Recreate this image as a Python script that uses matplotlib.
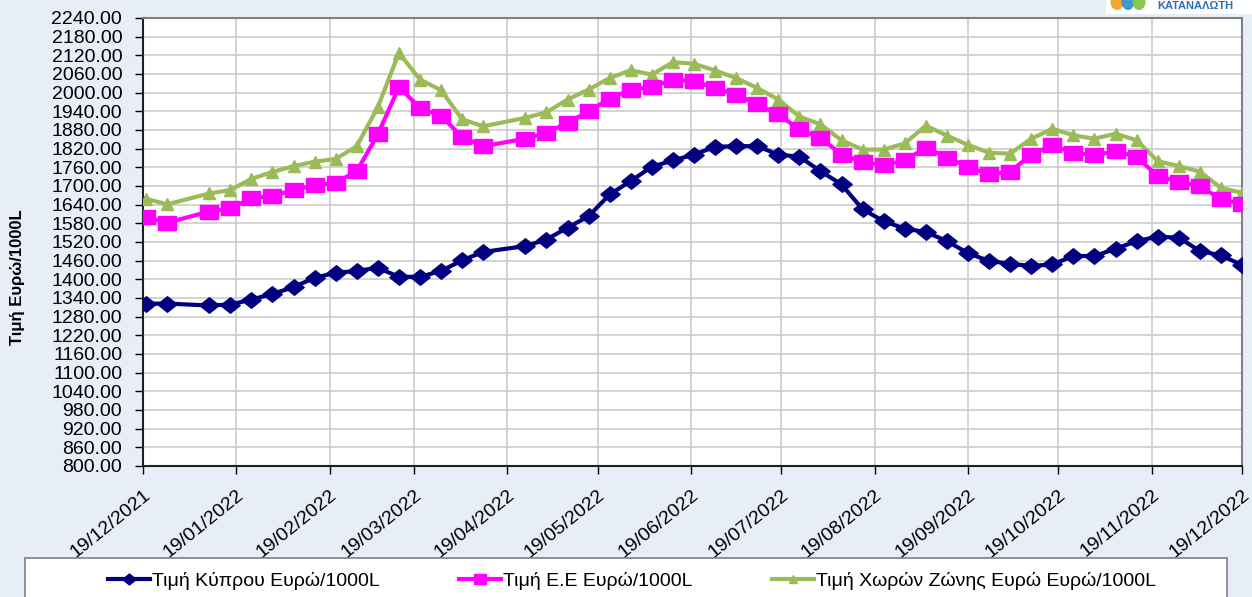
import numpy as np, matplotlib; matplotlib.use("Agg")
import matplotlib.pyplot as plt
import matplotlib.transforms as mtrans
from matplotlib.patches import Rectangle, Ellipse
import datetime as dt

plt.rcParams['font.family'] = ['Liberation Sans', 'DejaVu Sans']

# weekly dates (Mondays), gap for 03/01 and 18/04
dates = ["2021-12-20", "2021-12-27",
         "2022-01-10", "2022-01-17", "2022-01-24", "2022-01-31", "2022-02-07", "2022-02-14",
         "2022-02-21", "2022-02-28", "2022-03-07", "2022-03-14", "2022-03-21", "2022-03-28",
         "2022-04-04", "2022-04-11", "2022-04-25", "2022-05-02", "2022-05-09", "2022-05-16",
         "2022-05-23", "2022-05-30", "2022-06-06", "2022-06-13", "2022-06-20", "2022-06-27",
         "2022-07-04", "2022-07-11", "2022-07-18", "2022-07-25", "2022-08-01", "2022-08-08",
         "2022-08-15", "2022-08-22", "2022-08-29", "2022-09-05", "2022-09-12", "2022-09-19",
         "2022-09-26", "2022-10-03", "2022-10-10", "2022-10-17", "2022-10-24", "2022-10-31",
         "2022-11-07", "2022-11-14", "2022-11-21", "2022-11-28", "2022-12-05", "2022-12-12",
         "2022-12-19"]
cyprus = [1322, 1322, 1316, 1319, 1335, 1353, 1375, 1405, 1421, 1427, 1437, 1408, 1408, 1427,
          1461, 1488, 1507, 1528, 1566, 1603, 1673, 1716, 1762, 1782, 1801, 1826, 1828, 1828,
          1801, 1794, 1748, 1705, 1625, 1587, 1563, 1552, 1523, 1484, 1459, 1450, 1443, 1448,
          1475, 1475, 1498, 1523, 1537, 1534, 1491, 1477, 1446]
eu = [1601, 1582, 1618, 1628, 1660, 1668, 1687, 1702, 1710, 1748, 1866, 2018, 1951, 1926,
      1857, 1828, 1852, 1871, 1903, 1940, 1981, 2010, 2018, 2042, 2037, 2015, 1994, 1962,
      1930, 1882, 1855, 1801, 1777, 1767, 1782, 1823, 1791, 1762, 1737, 1746, 1801, 1831,
      1807, 1799, 1812, 1794, 1732, 1714, 1700, 1657, 1643]
zone = [1659, 1641, 1676, 1687, 1723, 1745, 1764, 1778, 1787, 1828, 1954, 2128, 2042, 2008,
        1914, 1892, 1919, 1937, 1978, 2010, 2047, 2072, 2058, 2098, 2093, 2071, 2047, 2015,
        1978, 1923, 1898, 1847, 1817, 1817, 1837, 1894, 1862, 1832, 1807, 1804, 1852, 1884,
        1863, 1852, 1868, 1847, 1780, 1764, 1746, 1694, 1678]
labels = ["Τιμή Κύπρου Ευρώ/1000L", "Τιμή Ε.Ε Ευρώ/1000L", "Τιμή Χωρών Ζώνης Ευρώ Ευρώ/1000L"]
yticks = np.arange(800, 2241, 60)

x = [dt.datetime.strptime(d, "%Y-%m-%d") for d in dates]
xt = [dt.datetime(2021, 12, 19)] + [dt.datetime(2022, m, 19) for m in range(1, 13)]

BG = "#E8EEF7"
fig = plt.figure(figsize=(12.52, 5.97), dpi=100, facecolor=BG)
ax = fig.add_axes([143/1252, 1-466/597, (1242-143)/1252, (466-18)/597])
ax.set_facecolor("white")

diam = [(-1, 0), (0, 0.8), (1, 0), (0, -0.8), (-1, 0)]
sq = [(-1, -0.78), (1, -0.78), (1, 0.78), (-1, 0.78), (-1, -0.78)]
ax.plot(x, zone, color="#9BBB59", lw=3, marker="^", ms=9, label=labels[2], zorder=3)
ax.plot(x, eu, color="#FF00FF", lw=3, marker=sq, ms=13, label=labels[1], zorder=4)
ax.plot(x, cyprus, color="#000080", lw=3, marker=diam, ms=14, label=labels[0], zorder=5)

ax.set_ylim(800, 2240)
ax.set_yticks(yticks)
ax.set_yticklabels(["%.2f" % v for v in yticks], fontsize=14)
ax.set_xlim(xt[0], xt[-1])
ax.set_xticks(xt)
ax.set_xticklabels([d.strftime("%d/%m/%Y") for d in xt], rotation=39, ha="right",
                   va="top", rotation_mode="anchor", fontsize=14)
off = mtrans.ScaledTranslation(6/100, 0, fig.dpi_scale_trans)
for t in ax.get_xticklabels():
    t.set_transform(t.get_transform() + off)
ax.tick_params(axis="y", length=6, width=1, pad=9)
ax.tick_params(axis="x", length=6, width=1, pad=9)
ax.grid(True, color="#C8C8C8", lw=1.1)
ax.set_axisbelow(True)
for s in ["top", "right"]:
    ax.spines[s].set_color("#808080"); ax.spines[s].set_linewidth(1.5)
for s in ["left", "bottom"]:
    ax.spines[s].set_color("#202020"); ax.spines[s].set_linewidth(1.5)

fig.text(18/1252, 1-277/597, "Τιμή Ευρώ/1000L", rotation=90, ha="center", va="center",
         fontsize=12, fontweight="bold")

# legend box (runs past the bottom edge)
fig.patches.append(Rectangle((25/1252, -0.05), (1227-25)/1252, 0.05+1-558/597,
                             transform=fig.transFigure, facecolor="white", edgecolor="#808080", lw=1.2))
h, l = ax.get_legend_handles_labels()
order = [2, 1, 0]
fig.legend([h[i] for i in order], [l[i] for i in order], loc="center",
           bbox_to_anchor=(632/1252, 1-581/597), ncol=3, frameon=False, fontsize=14,
           handlelength=2.15, handletextpad=0.1, columnspacing=4.1, markerscale=0.7)

# logo fragment top right
fig.patches.append(Rectangle((1106/1252, 1-14/597), 146/1252, 14/597, transform=fig.transFigure,
                             facecolor="white", edgecolor="none"))
for cx, c in [(1117, "#F39A1E"), (1128, "#2E8BC9"), (1139, "#7DC242")]:
    fig.patches.append(Ellipse((cx/1252, 1-2/597), 13/1252, 16/597, transform=fig.transFigure,
                               facecolor=c, edgecolor="none", alpha=0.9))
fig.text(1157/1252, 1-6/597, "ΚΑΤΑΝΑΛΩΤΗ", ha="left", va="center", fontsize=8,
         fontweight="bold", color="#2A6FB5")

fig.savefig("out.png", dpi=100, facecolor=BG)
